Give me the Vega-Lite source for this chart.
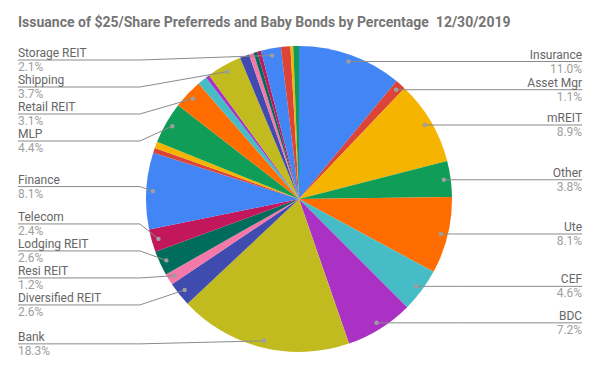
{
  "$schema": "https://vega.github.io/schema/vega-lite/v6.json",
  "width": 598,
  "height": 358,
  "autosize": {"type": "none"},
  "padding": {"left": 0, "top": 20, "right": 2, "bottom": 0},
  "background": "white",
  "config": {"view": {"stroke": null}, "font": "Roboto"},
  "title": {
    "text": "Issuance of $25/Share Preferreds and Baby Bonds by Percentage\u00a0 12/30/2019",
    "anchor": "start", "frame": "group", "orient": "top", "offset": -21, "dx": 18,
    "baseline": "alphabetic", "font": "Roboto", "fontSize": 14, "fontWeight": "bold", "color": "#757575"
  },
  "data": {"values": [
    {"name": "Insurance", "v": 11.0},
    {"name": "Asset Mgr", "v": 1.1},
    {"name": "mREIT", "v": 8.9},
    {"name": "Other", "v": 3.8},
    {"name": "Ute", "v": 8.1},
    {"name": "CEF", "v": 4.6},
    {"name": "BDC", "v": 7.2},
    {"name": "Bank", "v": 18.3},
    {"name": "Diversified REIT", "v": 2.6},
    {"name": "Resi REIT", "v": 1.2},
    {"name": "Lodging REIT", "v": 2.6},
    {"name": "Telecom", "v": 2.4},
    {"name": "Finance", "v": 8.1},
    {"name": "Auto", "v": 0.5},
    {"name": "Industrial", "v": 0.7},
    {"name": "MLP", "v": 4.4},
    {"name": "Retail REIT", "v": 3.1},
    {"name": "Office REIT", "v": 1.0},
    {"name": "Healthcare", "v": 0.4},
    {"name": "Shipping", "v": 3.7},
    {"name": "Specialty REIT", "v": 1.0},
    {"name": "Timber", "v": 0.5},
    {"name": "Tech", "v": 0.4},
    {"name": "Food", "v": 0.4},
    {"name": "Storage REIT", "v": 2.1},
    {"name": "Energy", "v": 1.0},
    {"name": "Materials", "v": 0.3},
    {"name": "Consumer", "v": 0.6}
  ]},
  "transform": [
    {"window": [{"op": "row_number", "as": "idx"}]},
    {"joinaggregate": [{"op": "sum", "field": "v", "as": "total"}]},
    {"window": [{"op": "sum", "field": "v", "as": "cum"}], "sort": [{"field": "idx"}], "frame": [null, 0]},
    {"calculate": "2*PI*(datum.cum - datum.v/2)/datum.total", "as": "ang"},
    {"calculate": "0.955*sin(datum.ang)", "as": "px"},
    {"calculate": "0.955*cos(datum.ang)", "as": "py"},
    {"calculate": "datum.ang < PI ? 'R' : 'L'", "as": "side"}
  ],
  "layer": [
    {
      "mark": {"type": "arc", "outerRadius": 153},
      "encoding": {
        "theta": {"field": "v", "type": "quantitative", "stack": true},
        "order": {"field": "idx", "type": "quantitative"},
        "color": {
          "field": "name", "type": "nominal", "sort": null, "legend": null,
          "scale": {"range": ["#4285F4", "#DB4437", "#F4B400", "#0F9D58", "#FF6D00", "#46BDC6", "#AB30C4", "#C1BB20", "#3F4BAF", "#F478A8", "#006C5B", "#C2185B"]}
        }
      }
    },
    {
      "transform": [
        {"filter": "datum.v >= 1.05"},
        {"calculate": "-datum.py", "as": "d"},
        {"window": [{"op": "row_number", "as": "i"}], "groupby": ["side"], "sort": [{"field": "d"}]},
        {"calculate": "datum.d - datum.i*0.1765", "as": "t"},
        {"window": [{"op": "max", "field": "t", "as": "A"}], "groupby": ["side"], "sort": [{"field": "d"}], "frame": [null, 0]},
        {"window": [{"op": "min", "field": "t", "as": "B"}], "groupby": ["side"], "sort": [{"field": "d"}], "frame": [0, null]},
        {"calculate": "(datum.A + datum.B)/2", "as": "t2"},
        {"window": [{"op": "max", "field": "t2", "as": "C"}], "groupby": ["side"], "sort": [{"field": "d"}], "frame": [null, 0]},
        {"calculate": "-(datum.i*0.1765 + max(-1.085, datum.C))", "as": "ly"},
        {"calculate": "datum.side == 'L' ? -1.837 : 1.850", "as": "lx"},
        {"calculate": "datum.side == 'L' ? -1.04 : 1.04", "as": "bx"},
        {"calculate": "format(datum.v, '.1f') + '%'", "as": "pct"}
      ],
      "layer": [
        {
          "mark": {"type": "rule", "color": "#8a8a8a", "strokeWidth": 1},
          "encoding": {
            "x": {"field": "lx", "type": "quantitative", "scale": {"domain": [-1.954, 1.954], "nice": false, "zero": false}, "axis": null},
            "x2": {"field": "bx"},
            "y": {"field": "ly", "type": "quantitative", "scale": {"domain": [-1.17, 1.17], "nice": false, "zero": false}, "axis": null}
          }
        },
        {
          "mark": {"type": "rule", "color": "#8a8a8a", "strokeWidth": 1},
          "encoding": {
            "x": {"field": "bx", "type": "quantitative", "scale": {"domain": [-1.954, 1.954], "nice": false, "zero": false}, "axis": null},
            "y": {"field": "ly", "type": "quantitative", "scale": {"domain": [-1.17, 1.17], "nice": false, "zero": false}, "axis": null},
            "x2": {"field": "px"},
            "y2": {"field": "py"}
          }
        },
        {
          "mark": {"type": "point", "filled": true, "size": 20, "color": "#9e9e9e", "opacity": 1},
          "encoding": {
            "x": {"field": "px", "type": "quantitative", "scale": {"domain": [-1.954, 1.954], "nice": false, "zero": false}, "axis": null},
            "y": {"field": "py", "type": "quantitative", "scale": {"domain": [-1.17, 1.17], "nice": false, "zero": false}, "axis": null}
          }
        },
        {
          "transform": [{"filter": "datum.side == 'L'"}],
          "mark": {"type": "text", "align": "left", "baseline": "alphabetic", "dy": -3, "fontSize": 12, "font": "Roboto", "color": "#666666"},
          "encoding": {
            "x": {"field": "lx", "type": "quantitative", "scale": {"domain": [-1.954, 1.954], "nice": false, "zero": false}, "axis": null},
            "y": {"field": "ly", "type": "quantitative", "scale": {"domain": [-1.17, 1.17], "nice": false, "zero": false}, "axis": null},
            "text": {"field": "name"}
          }
        },
        {
          "transform": [{"filter": "datum.side == 'R'"}],
          "mark": {"type": "text", "align": "right", "baseline": "alphabetic", "dy": -3, "fontSize": 12, "font": "Roboto", "color": "#666666"},
          "encoding": {
            "x": {"field": "lx", "type": "quantitative", "scale": {"domain": [-1.954, 1.954], "nice": false, "zero": false}, "axis": null},
            "y": {"field": "ly", "type": "quantitative", "scale": {"domain": [-1.17, 1.17], "nice": false, "zero": false}, "axis": null},
            "text": {"field": "name"}
          }
        },
        {
          "transform": [{"filter": "datum.side == 'L'"}],
          "mark": {"type": "text", "align": "left", "baseline": "alphabetic", "dy": 11, "fontSize": 12, "font": "Roboto", "color": "#9e9e9e"},
          "encoding": {
            "x": {"field": "lx", "type": "quantitative", "scale": {"domain": [-1.954, 1.954], "nice": false, "zero": false}, "axis": null},
            "y": {"field": "ly", "type": "quantitative", "scale": {"domain": [-1.17, 1.17], "nice": false, "zero": false}, "axis": null},
            "text": {"field": "pct"}
          }
        },
        {
          "transform": [{"filter": "datum.side == 'R'"}],
          "mark": {"type": "text", "align": "right", "baseline": "alphabetic", "dy": 11, "fontSize": 12, "font": "Roboto", "color": "#9e9e9e"},
          "encoding": {
            "x": {"field": "lx", "type": "quantitative", "scale": {"domain": [-1.954, 1.954], "nice": false, "zero": false}, "axis": null},
            "y": {"field": "ly", "type": "quantitative", "scale": {"domain": [-1.17, 1.17], "nice": false, "zero": false}, "axis": null},
            "text": {"field": "pct"}
          }
        }
      ]
    }
  ]
}
